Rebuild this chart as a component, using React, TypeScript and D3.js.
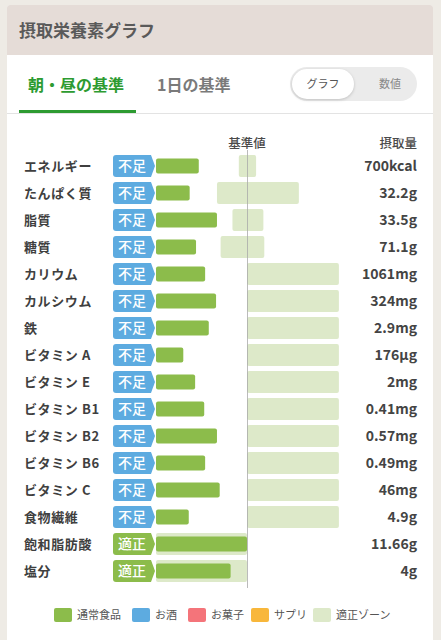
import React from "react";
import * as d3 from "d3";

const nutrients = ["エネルギー","たんぱく質","脂質","糖質","カリウム","カルシウム","鉄","ビタミン A","ビタミン E","ビタミン B1","ビタミン B2","ビタミン B6","ビタミン C","食物繊維","飽和脂肪酸","塩分"];
const intakePct = [47,37,67,44,54,66,58,30,43,53,67,54,70,36,100,82];
const zoneLow = [91,67,84,71,100,100,100,100,100,100,100,100,100,100,0,0];
const zoneHigh = [110,157,118,119,201,201,201,201,201,201,201,201,201,201,100,100];
const intakeText = ["700kcal","32.2g","33.5g","71.1g","1061mg","324mg","2.9mg","176µg","2mg","0.41mg","0.57mg","0.49mg","46mg","4.9g","11.66g","4g"];
const status = ["不足","不足","不足","不足","不足","不足","不足","不足","不足","不足","不足","不足","不足","不足","適正","適正"];
const legendLabels = ["通常食品","お酒","お菓子","サプリ","適正ゾーン"];
const legendColors = ["#8cbc4b","#5dabe0","#f4747a","#f8b73b","#dde9c9"];

const W = 441, H = 640;
const FONT = "'Noto Sans CJK JP', 'Noto Sans', sans-serif";

export default function App() {
  const x = d3.scaleLinear().domain([0, 100]).range([156, 247]);
  const y = d3.scaleBand<string>().domain(nutrients).range([152.5, 584.5]).paddingInner(0);
  const cy = (n: string) => (y(n) as number) + y.bandwidth() / 2;
  const legendX = [54, 132, 188, 251, 313];
  return (
    <div style={{ position: "fixed", left: 0, top: 0, width: W, height: H, overflow: "hidden" }}>
      <svg width={W} height={H} style={{ display: "block", fontFamily: FONT }}>
        <rect x={0} y={0} width={W} height={H} fill="#eeebe5" />
        <rect x={7} y={5} width={426} height={H} fill="#ffffff" rx={3} />
        <path d="M7,55 V8 a3,3 0 0 1 3,-3 H430 a3,3 0 0 1 3,3 V55 Z" fill="#e5dcd7" />
        <text x={19} y={37} fontSize={17} fontWeight={700} fill="#5a5a5a">摂取栄養素グラフ</text>
        <text x={28} y={91} fontSize={16} fontWeight={700} fill="#2d9b31">朝・昼の基準</text>
        <text x={157} y={91} fontSize={16} fontWeight={700} fill="#7a7a7a">1日の基準</text>
        <line x1={7} x2={433} y1={113.5} y2={113.5} stroke="#e3e3e3" strokeWidth={1} />
        <rect x={19} y={110} width={117} height={3} fill="#2d9b31" />
        <rect x={290} y={67} width={127} height={34} rx={17} fill="#ebebeb" />
        <rect x={292} y={69} width={62} height={30} rx={15} fill="#ffffff" style={{ filter: "drop-shadow(0 1px 1.5px rgba(0,0,0,0.18))" }} />
        <text x={323} y={88} fontSize={11} fill="#555" textAnchor="middle">グラフ</text>
        <text x={390} y={88} fontSize={11} fill="#888" textAnchor="middle">数値</text>

        <text x={247} y={148} fontSize={12.5} fontWeight={500} fill="#4a4a4a" textAnchor="middle">基準値</text>
        <text x={417} y={148} fontSize={12.5} fontWeight={500} fill="#4a4a4a" textAnchor="end">摂取量</text>

        {nutrients.map((n, i) => {
          const c = cy(n);
          const badgeColor = status[i] === "適正" ? "#8cbc4b" : "#5dabe0";
          return (
            <g key={n}>
              <rect x={x(zoneLow[i])} y={c - 11} width={x(zoneHigh[i]) - x(zoneLow[i])} height={22} rx={2} fill="#dde9c9" />
              <rect x={x(0)} y={c - 7.5} width={x(intakePct[i]) - x(0)} height={15} rx={2} fill="#8cbc4b" />
              <path d={`M113,${c - 8} a3,3 0 0 1 3,-3 H151 L155,${c} L151,${c + 11} H116 a3,3 0 0 1 -3,-3 Z`} fill={badgeColor} />
              <text x={132} y={c + 5} fontSize={14} fontWeight={500} fill="#fff" textAnchor="middle">{status[i]}</text>
              <text x={24} y={c + 4.5} fontSize={13} fontWeight={700} letterSpacing={0.6} fill="#3f3f3f">{n}</text>
              <text x={417} y={c + 5} fontSize={14} fontWeight={700} fill="#444" textAnchor="end">{intakeText[i]}</text>
            </g>
          );
        })}
        <line x1={247.5} x2={247.5} y1={150} y2={588} stroke="#aaaaaa" strokeWidth={0.8} />

        {legendLabels.map((l, i) => (
          <g key={l}>
            <rect x={legendX[i]} y={608} width={18} height={14} rx={2} fill={legendColors[i]} />
            <text x={legendX[i] + 23} y={619} fontSize={11} fill="#555">{l}</text>
          </g>
        ))}
      </svg>
    </div>
  );
}
